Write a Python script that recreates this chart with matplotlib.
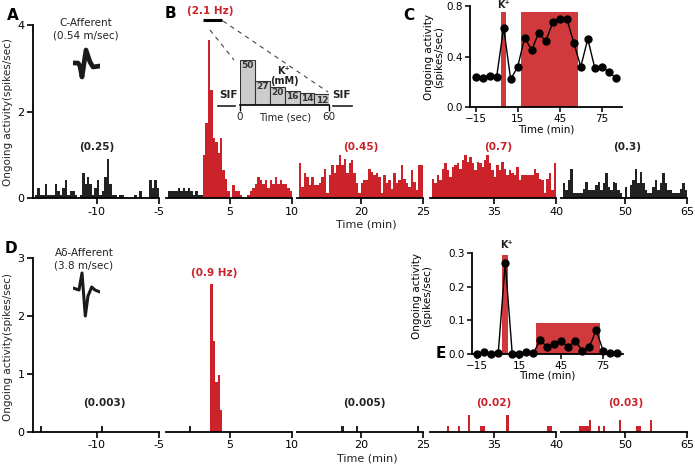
import matplotlib.pyplot as plt
import numpy as np

W, H = 695, 465
RED = '#cc2229'
RED_LIGHT = '#d03a3c'
DARK = '#222222'

# ---------------- data ----------------
bin_w = 0.2  # min
seg_start = [-15, 0, 15, 30, 55]
seg_lim = [(-15.15, -5), (-0.15, 10), (14.85, 25), (29.85, 40), (54.85, 65)]
seg_ticks = [[-10, -5], [5, 10], [20, 25], [35, 40], [60, 65]]
seg_ticklabels = [['-10', '-5'], ['5', '10'], ['20', '25'], ['35', '40'], ['50', '65']]

# C-afferent, rate per 12 s bin (spikes/sec)
c_seg1 = [0.08, 0.25, 0.08, 0.08, 0.33, 0.08, 0.08, 0.08, 0.33, 0.17,
          0.08, 0.25, 0.42, 0.08, 0.17, 0.17, 0.08, 0, 0.08, 0.58,
          0.33, 0.5, 0.33, 0.08, 0.25, 0.42, 0.08, 0.17, 0.5, 0.92,
          0.33, 0.08, 0.08, 0, 0.08, 0.08, 0, 0, 0, 0,
          0.08, 0, 0.17, 0, 0, 0, 0.42, 0.25, 0.42, 0.25]
c_seg2 = [0.17, 0.17, 0.17, 0.17, 0.25, 0.17, 0.25, 0.17, 0.25, 0.17,
          0.08, 0.17, 0.08, 0.08, 1.0, 1.75, 3.65, 2.5, 1.4, 1.3,
          1.05, 1.4, 0.65, 0.45, 0.17, 0, 0.3, 0.17, 0.17, 0.08,
          0, 0, 0.08, 0.17, 0.25, 0.33, 0.5, 0.42, 0.33, 0.42,
          0.25, 0.42, 0.33, 0.5, 0.33, 0.42, 0.33, 0.33, 0.25, 0.17]
c_seg3 = [0.81, 0.27, 0.58, 0.5, 0.31, 0.5, 0.31, 0.31, 0.35, 0.5,
          0.69, 0.12, 0.54, 0.77, 0.58, 0.77, 1.0, 0.77, 0.92, 0.58,
          0.81, 0.89, 0.58, 0.35, 0.12, 0.35, 0.42, 0.42, 0.69, 0.62,
          0.54, 0.58, 0.5, 0.12, 0.54, 0.35, 0.42, 0.23, 0.58, 0.35,
          0.42, 0.77, 0.46, 0.35, 0.27, 0.65, 0.39, 0.19, 0.77, 0.77]
c_seg4 = [0.46, 0.35, 0.54, 0.42, 0.69, 0.81, 0.65, 0.5, 0.73, 0.77,
          0.81, 0.69, 0.89, 1.0, 0.85, 0.96, 0.81, 0.65, 0.85, 0.81,
          0.73, 0.89, 1.0, 0.81, 0.65, 0.5, 0.77, 0.65, 0.85, 0.69,
          0.54, 0.65, 0.58, 0.54, 0.73, 0.42, 0.54, 0.54, 0.54, 0.54,
          0.54, 0.69, 0.58, 0.46, 0.42, 0.12, 0.46, 0.58, 0.19, 0.81]
c_seg5 = [0.35, 0.19, 0.42, 0.69, 0.12, 0.12, 0.12, 0.12, 0.23, 0.39,
          0.19, 0.19, 0.19, 0.31, 0.39, 0.19, 0.35, 0.58, 0.27, 0.19,
          0.39, 0.35, 0.19, 0.12, 0, 0.27, 0, 0.31, 0.42, 0.69,
          0.35, 0.62, 0.35, 0.19, 0.12, 0.12, 0.27, 0.42, 0.19, 0.35,
          0.58, 0.35, 0.19, 0.19, 0.12, 0.12, 0.12, 0.23, 0.35, 0.19]
c_segs = [c_seg1, c_seg2, c_seg3, c_seg4, c_seg5]
c_red_from = [99, 14, 0, 0, 99]  # first red bin index per segment
c_means = ['(0.25)', '(2.1 Hz)', '(0.45)', '(0.7)', '(0.3)']

# A-delta afferent: sparse bins (start time, rate)
d_t = [[-14.6, -9.7],
       [1.7, 3.4, 3.6, 3.8, 4.0, 4.2],
       [18.4, 19.6, 24.5],
       [31.2, 32.1, 32.9, 33.9, 34.1, 36.0, 39.3, 39.5],
       [56.3, 56.5, 56.7, 56.9, 57.1, 57.8, 58.2, 59.5, 60.9, 61.1, 62.0]]
d_h = [[0.1, 0.1],
       [0.1, 2.55, 1.57, 0.87, 0.98, 0.38],
       [0.1, 0.1, 0.1],
       [0.1, 0.1, 0.3, 0.1, 0.1, 0.3, 0.1, 0.1],
       [0.1, 0.1, 0.1, 0.1, 0.2, 0.1, 0.1, 0.2, 0.1, 0.1, 0.2]]
d_red_from = [999, 3.0, 999, 30, 55]
d_means = ['(0.003)', '(0.9 Hz)', '(0.005)', '(0.02)', '(0.03)']

# summary (5-min means)
sum_t = [-15, -10, -5, 0, 5, 10, 15, 20, 25, 30, 35, 40, 45, 50, 55, 60, 65, 70, 75, 80, 85]
c_sum = [0.24, 0.23, 0.25, 0.24, 0.63, 0.22, 0.32, 0.55, 0.45, 0.59, 0.52, 0.67, 0.70, 0.70,
         0.51, 0.32, 0.54, 0.31, 0.32, 0.28, 0.23]
d_sum = [0.0, 0.007, 0.0, 0.004, 0.272, 0.0, 0.0, 0.006, 0.002, 0.042, 0.02, 0.029, 0.04, 0.02,
         0.04, 0.01, 0.02, 0.071, 0.01, 0.004, 0.004]
c_kplus = [(3, 7, 0.75), (17.5, 58, 0.75)]
d_kplus = [(3, 7, 0.295), (27, 73, 0.091)]

# K+ application steps
k_time = [0, 10, 20, 30, 40, 50]
k_conc = [50, 27, 20, 16, 14, 12]

# spike waveforms (icon)
wave_c_t = [0, 5, 7, 9, 13, 17, 20, 27]
wave_c_v = [0, 0, -3, -14, 13, 1, -4, -3]
wave_d_t = [0, 6, 9, 12.3, 15, 18.7, 22, 27]
wave_d_v = [2, 0, 17, -26, -6, 3, 0, -2]

# ---------------- figure ----------------
fig = plt.figure(figsize=(W / 100, H / 100), dpi=100)


def box(x0, x1, ytop, ybot):
    return [x0 / W, 1 - ybot / H, (x1 - x0) / W, (ybot - ytop) / H]


def ftext(x, y, s, **kw):
    kw.setdefault('ha', 'center')
    kw.setdefault('va', 'center')
    fig.text(x / W, 1 - y / H, s, **kw)


seg_px = [(33, 159), (166, 292), (297, 423), (430, 556), (561, 687)]
mean_x = [97, 210, 361, 498, 627]


def style_seg(ax, i, lim):
    ax.set_xlim(*lim)
    for s in ['top', 'right']:
        ax.spines[s].set_visible(False)
    ax.spines['bottom'].set_linewidth(1.3)
    ax.spines['left'].set_linewidth(1.3)
    if i > 0:
        ax.spines['left'].set_visible(False)
        ax.tick_params(left=False, labelleft=False)
    ax.set_xticks(seg_ticks[i], labels=seg_ticklabels[i])
    ax.tick_params(direction='out', length=4, width=1.2, labelsize=8, pad=2)
    ax.patch.set_visible(False)


# top row (A/B)
for i, (x0, x1) in enumerate(seg_px):
    ax = fig.add_axes(box(x0, x1, 25, 198.5))
    vals = np.array(c_segs[i])
    t = seg_start[i] + bin_w * np.arange(len(vals))
    cols = [RED if k >= c_red_from[i] else DARK for k in range(len(vals))]
    ax.bar(t, vals, width=bin_w, align='edge', color=cols, linewidth=0)
    ax.set_ylim(0, 4)
    style_seg(ax, i, seg_lim[i])
    if i == 0:
        ax.set_yticks([0, 2, 4])
    if i == 1:
        ax.plot([2.8, 4.4], [4.12, 4.12], color='black', lw=2.2, clip_on=False,
                solid_capstyle='butt')

# bottom row (D)
for i, (x0, x1) in enumerate(seg_px):
    ax = fig.add_axes(box(x0, x1, 258, 432))
    cols = [RED if tt >= d_red_from[i] else DARK for tt in d_t[i]]
    ax.bar(d_t[i], d_h[i], width=bin_w, align='edge', color=cols, linewidth=0)
    ax.set_ylim(0, 3)
    style_seg(ax, i, seg_lim[i])
    if i == 0:
        ax.set_yticks([0, 1, 2, 3])

# mean labels
for i in range(5):
    red = c_red_from[i] < 50
    ftext(mean_x[i], 11 if i == 1 else 147, c_means[i], fontsize=7.5, fontweight='bold',
          color=RED if red else DARK)
d_mean_x = [104, 214, 364, 494, 626]
for i in range(5):
    red = d_red_from[i] < 100
    ftext(d_mean_x[i], 273 if i == 1 else 402.5, d_means[i], fontsize=7.5,
          fontweight='bold', color=RED if red else DARK)

ftext(8, 112, 'Ongoing activity(spikes/sec)', rotation=90, fontsize=7.5, color=DARK)
ftext(8, 347, 'Ongoing activity(spikes/sec)', rotation=90, fontsize=7.5, color=DARK)
ftext(366, 224, 'Time (min)', fontsize=8, color=DARK)
ftext(367, 458, 'Time (min)', fontsize=8, color=DARK)

# panel letters
for lab, x, y in [('A', 12.5, 15), ('B', 170, 14), ('C', 409, 15), ('D', 11, 248), ('E', 441, 353)]:
    ftext(x, y, lab, fontsize=11, fontweight='bold', color='black')

ftext(86, 23, 'C-Afferent', fontsize=7.5, color=DARK)
ftext(86, 36, '(0.54 m/sec)', fontsize=7.5, color=DARK)
ftext(84, 253.5, 'A\u03b4-Afferent', fontsize=7.5, color=DARK)
ftext(84, 266, '(3.8 m/sec)', fontsize=7.5, color=DARK)

# waveform icons
axw = fig.add_axes(box(73, 100, 44, 82))
axw.plot(wave_c_t, wave_c_v, color='#1a1a1a', lw=3.4, solid_joinstyle='round')
axw.set_xlim(0, 27)
axw.set_ylim(-19, 19)
axw.axis('off')
axw2 = fig.add_axes(box(73, 100, 268, 320))
axw2.plot(wave_d_t, wave_d_v, color='#1a1a1a', lw=2.2, solid_joinstyle='round')
axw2.set_xlim(0, 27)
axw2.set_ylim(-30, 22)
axw2.axis('off')

# B inset: K+ steps
axk = fig.add_axes(box(240, 329.3, 60, 105.3))
axk.bar(k_time, k_conc, width=10, align='edge', color='#cccccc', edgecolor='#333333',
        linewidth=0.8)
for t0, c in zip(k_time, k_conc):
    axk.annotate(str(c), (t0, c), xytext=(1, -0.8), textcoords='offset points',
                 ha='left', va='top', fontsize=6.5, fontweight='bold', color='#333333')
axk.set_xlim(0, 60)
axk.set_ylim(0, 50)
for s in ['top', 'right', 'left']:
    axk.spines[s].set_visible(False)
axk.spines['bottom'].set_linewidth(1.2)
axk.set_yticks([])
axk.set_xticks([0, 60], labels=['', ''])
axk.tick_params(direction='out', length=4, width=1.0)
axk.patch.set_visible(False)
ftext(240, 117.3, '0', fontsize=7.5, color=DARK)
ftext(285, 117.3, 'Time (sec)', fontsize=7.2, color=DARK)
ftext(329, 117.3, '60', fontsize=7.5, color=DARK)
ftext(284, 71, 'K\u207a', fontsize=7, fontweight='bold', color=DARK)
ftext(284.5, 81.5, '(mM)', fontsize=7, fontweight='bold', color=DARK)
ftext(228.5, 95.5, 'SIF', fontsize=7.5, fontweight='bold', color=DARK)
ftext(341.5, 95.5, 'SIF', fontsize=7.5, fontweight='bold', color=DARK)

ov = fig.add_axes([0, 0, 1, 1])
ov.set_xlim(0, W)
ov.set_ylim(H, 0)
ov.axis('off')
ov.plot([218, 235], [106.5, 106.5], color=DARK, lw=1.2)
ov.plot([333, 352], [106.5, 106.5], color=DARK, lw=1.2)
ov.plot([210, 234], [30, 60], color='#444444', lw=0.8, dashes=(4, 4))
ov.plot([223, 328], [21, 92], color='#444444', lw=0.8, dashes=(4, 4))


# C / E insets
def summary(ax, ys, kplus, ylim, yticks):
    for a, b, h in kplus:
        ax.bar(a, h, width=b - a, align='edge', color=RED_LIGHT, linewidth=0, clip_on=False)
    ax.plot(sum_t, ys, color='black', lw=1.0, marker='o', markersize=5, clip_on=False,
            zorder=3)
    ax.set_xlim(-19, 89.4)
    ax.set_ylim(*ylim)
    for s in ['top', 'right']:
        ax.spines[s].set_visible(False)
    ax.spines['bottom'].set_linewidth(1.3)
    ax.spines['left'].set_linewidth(1.3)
    ax.set_xticks([-15, 15, 45, 75])
    ax.set_yticks(yticks, labels=['%.1f' % v for v in yticks])
    ax.tick_params(direction='out', length=3.5, width=1.1, labelsize=7.5, pad=1.5)
    ax.patch.set_visible(False)
    ax.set_xlabel('Time (min)', fontsize=7.5, labelpad=0)
    ax.set_ylabel('Ongoing activity\n(spikes/sec)', fontsize=7.5, labelpad=2, linespacing=1.0)


axc = fig.add_axes(box(470, 622, 6, 107.3))
summary(axc, c_sum, c_kplus, (0, 0.8), [0.0, 0.4, 0.8])
ftext(503, 5, 'K\u207a', fontsize=7, fontweight='bold', color=DARK)

axe = fig.add_axes(box(471.7, 623.3, 253.3, 354))
summary(axe, d_sum, d_kplus, (0, 0.3), [0.0, 0.1, 0.2, 0.3])
axe.yaxis.set_label_coords(-0.26, 0.58)
ftext(506, 245, 'K\u207a', fontsize=7, fontweight='bold', color=DARK)

fig.savefig('out.png', dpi=100)
